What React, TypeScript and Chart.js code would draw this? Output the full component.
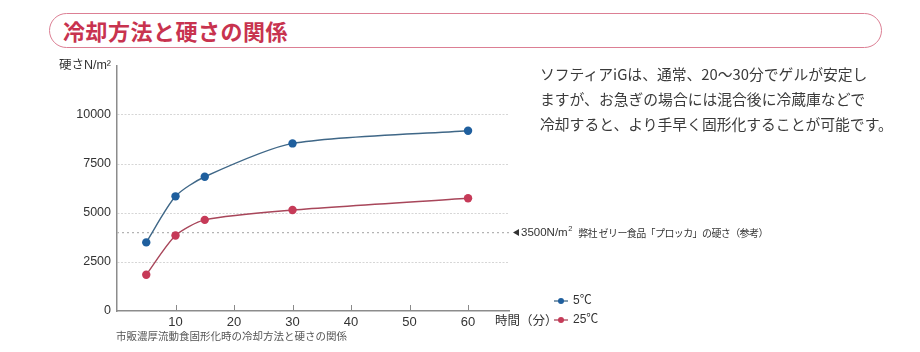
import React, { useEffect, useRef } from 'react';
import { Chart, registerables } from 'chart.js';

Chart.register(...registerables);

// ---- data ----
const minutes = [5, 10, 15, 30, 60];
const hardness5C = [3500, 5850, 6850, 8550, 9200];
const hardness25C = [1850, 3850, 4650, 5150, 5750];
const seriesLabels = ['5℃', '25℃'];
const xTickValues = [10, 20, 30, 40, 50, 60];
const yUnitLabel = '硬さN/m²';
const xAxisTitle = '時間（分）';
const referenceValue = 4000;
const referenceValueText = '3500N/m';
const referenceText = '弊社 ゼリー食品「プロッカ」の硬さ（参考）';
const titleText = '冷却方法と硬さの関係';
const bodyLines = [
  'ソフティアiGは、通常、20～30分でゲルが安定し',
  'ますが、お急ぎの場合には混合後に冷蔵庫などで',
  '冷却すると、より手早く固形化することが可能です。',
];
const captionText = '市販濃厚流動食固形化時の冷却方法と硬さの関係';

const BLUE_PT = '#1f5f9e';
const BLUE_LN = '#3f6787';
const RED_PT = '#c63a58';
const RED_LN = '#a8465a';
const LATIN = "'Liberation Sans', Arial, 'Noto Sans CJK JP', sans-serif";
const CJK = "'Noto Sans CJK JP', 'Liberation Sans', sans-serif";

const overlayPlugin = {
  id: 'overlay',
  beforeDatasetsDraw(chart: any) {
    const { ctx, chartArea, scales } = chart;
    const x = scales.x;
    const y = scales.y;
    ctx.save();
    const py = y.getPixelForValue(referenceValue);
    ctx.setLineDash([2, 3]);
    ctx.strokeStyle = '#b4b4b4';
    ctx.lineWidth = 1.2;
    ctx.beginPath();
    ctx.moveTo(chartArea.left, py);
    ctx.lineTo(chartArea.right, py);
    ctx.stroke();
    ctx.setLineDash([]);
    ctx.strokeStyle = '#8a8a8a';
    ctx.lineWidth = 1;
    ctx.beginPath();
    xTickValues.forEach((v) => {
      const px = Math.round(x.getPixelForValue(v)) + 0.5;
      ctx.moveTo(px, chartArea.bottom);
      ctx.lineTo(px, chartArea.bottom - 6);
    });
    ctx.stroke();
    ctx.restore();
  },
  afterDraw(chart: any) {
    const { ctx, chartArea, scales } = chart;
    const y = scales.y;
    ctx.save();
    // reference label
    const py = y.getPixelForValue(referenceValue);
    let tx = chartArea.right + 4;
    ctx.fillStyle = '#333';
    ctx.beginPath();
    ctx.moveTo(tx, py);
    ctx.lineTo(tx + 6, py - 3.5);
    ctx.lineTo(tx + 6, py + 3.5);
    ctx.closePath();
    ctx.fill();
    tx += 8;
    ctx.textBaseline = 'middle';
    ctx.font = `11.5px ${LATIN}`;
    ctx.fillText(referenceValueText, tx, py + 0.5);
    tx += ctx.measureText(referenceValueText).width + 0.5;
    ctx.font = `7.5px ${LATIN}`;
    ctx.fillText('2', tx, py - 4);
    tx += 10;
    ctx.font = `10px ${CJK}`;
    (ctx as any).letterSpacing = '-0.6px';
    ctx.fillText(referenceText, tx, py + 0.5);
    (ctx as any).letterSpacing = '0px';

    // x axis title
    ctx.font = `12.5px ${CJK}`;
    ctx.fillStyle = '#333';
    ctx.fillText(xAxisTitle, chartArea.right - 14, chartArea.bottom + 9);

    // legend
    const items = [
      { label: seriesLabels[0], ln: BLUE_LN, pt: BLUE_PT, y: 301 },
      { label: seriesLabels[1], ln: RED_LN, pt: RED_PT, y: 320 },
    ];
    items.forEach((it) => {
      ctx.strokeStyle = it.ln;
      ctx.lineWidth = 1.3;
      ctx.beginPath();
      ctx.moveTo(554, it.y);
      ctx.lineTo(568, it.y);
      ctx.stroke();
      ctx.fillStyle = it.pt;
      ctx.beginPath();
      ctx.arc(561, it.y, 3, 0, Math.PI * 2);
      ctx.fill();
      ctx.fillStyle = '#333';
      ctx.font = `12px ${LATIN}`;
      ctx.fillText(it.label, 573, it.y);
    });
    ctx.restore();
  },
};

export default function App() {
  const canvasRef = useRef<HTMLCanvasElement | null>(null);

  useEffect(() => {
    document.body.style.margin = '0';
    const canvas = canvasRef.current;
    if (!canvas) return;
    const chart = new Chart(canvas, {
      type: 'line',
      data: {
        datasets: [
          {
            label: seriesLabels[0],
            data: minutes.map((m, i) => ({ x: m, y: hardness5C[i] })),
            borderColor: BLUE_LN,
            backgroundColor: BLUE_PT,
            pointBackgroundColor: BLUE_PT,
            pointBorderWidth: 0,
            pointRadius: 4.2,
            borderWidth: 1.4,
            tension: 0.25,
          },
          {
            label: seriesLabels[1],
            data: minutes.map((m, i) => ({ x: m, y: hardness25C[i] })),
            borderColor: RED_LN,
            backgroundColor: RED_PT,
            pointBackgroundColor: RED_PT,
            pointBorderWidth: 0,
            pointRadius: 4.2,
            borderWidth: 1.4,
            tension: 0.25,
          },
        ],
      },
      options: {
        responsive: false,
        animation: false,
        layout: { padding: { left: 0, top: 66, right: 411, bottom: 0 } },
        plugins: { legend: { display: false }, tooltip: { enabled: false } },
        scales: {
          x: {
            type: 'linear',
            min: 0,
            max: 67,
            afterFit: (scale: any) => {
              scale.height = 41;
            },
            ticks: {
              stepSize: 10,
              includeBounds: false,
              padding: 4,
              color: '#333',
              font: { family: LATIN, size: 13 },
              callback: (v: any) => (xTickValues.includes(Number(v)) ? String(v) : ''),
            },
            grid: { display: false, drawTicks: false },
            border: { display: true, color: '#8c8c8c', width: 1.5 },
          },
          y: {
            type: 'linear',
            min: 0,
            max: 12500,
            afterFit: (scale: any) => {
              scale.width = 117;
            },
            ticks: {
              stepSize: 2500,
              padding: 6,
              color: '#333',
              font: { family: LATIN, size: 12.5 },
              callback: (v: any) => (Number(v) === 12500 ? yUnitLabel : String(v)),
            },
            grid: {
              drawTicks: false,
              color: (c: any) =>
                c.tick && (c.tick.value === 0 || c.tick.value === 12500) ? 'rgba(0,0,0,0)' : '#d6d6d6',
              lineWidth: 1,
            },
            border: { display: true, color: '#8c8c8c', width: 1.5, dash: [2, 1.5] },
          },
        },
      },
      plugins: [overlayPlugin],
    } as any);
    return () => chart.destroy();
  }, []);

  return (
    <div style={{ position: 'relative', width: 920, height: 352, background: '#fff', overflow: 'hidden' }}>
      <div
        style={{
          position: 'absolute',
          left: 49,
          top: 13,
          width: 831,
          height: 33,
          border: '1.5px solid #dc7f94',
          borderRadius: 18,
          boxSizing: 'content-box',
        }}
      >
        <div
          style={{
            position: 'absolute',
            left: 13,
            top: 0,
            lineHeight: '33px',
            fontFamily: CJK,
            fontWeight: 700,
            fontSize: 22,
            color: '#c8334f',
            letterSpacing: 0.5,
          }}
        >
          {titleText}
        </div>
      </div>
      <canvas
        ref={canvasRef}
        width={920}
        height={352}
        style={{ position: 'absolute', left: 0, top: 0, width: 920, height: 352 }}
      />
      <div
        style={{
          position: 'absolute',
          left: 540,
          top: 61,
          fontFamily: CJK,
          fontSize: 14.8,
          lineHeight: '25px',
          color: '#3a3a3a',
          whiteSpace: 'nowrap',
        }}
      >
        {bodyLines.map((l, i) => (
          <div key={i}>{l}</div>
        ))}
      </div>
      <div
        style={{
          position: 'absolute',
          left: 116,
          top: 328,
          fontFamily: CJK,
          fontSize: 10.5,
          lineHeight: '16px',
          color: '#555',
          whiteSpace: 'nowrap',
        }}
      >
        {captionText}
      </div>
    </div>
  );
}
